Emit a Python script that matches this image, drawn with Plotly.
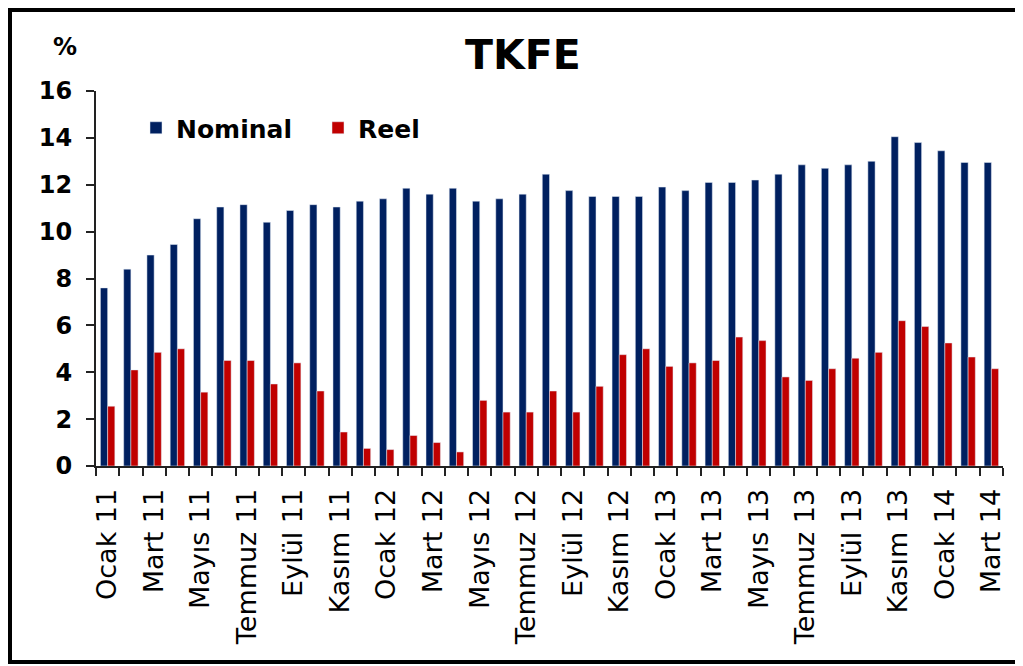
import plotly.graph_objects as go

categories = [
    "Ocak 11", "Şubat 11", "Mart 11", "Nisan 11", "Mayıs 11", "Haziran 11",
    "Temmuz 11", "Ağustos 11", "Eylül 11", "Ekim 11", "Kasım 11", "Aralık 11",
    "Ocak 12", "Şubat 12", "Mart 12", "Nisan 12", "Mayıs 12", "Haziran 12",
    "Temmuz 12", "Ağustos 12", "Eylül 12", "Ekim 12", "Kasım 12", "Aralık 12",
    "Ocak 13", "Şubat 13", "Mart 13", "Nisan 13", "Mayıs 13", "Haziran 13",
    "Temmuz 13", "Ağustos 13", "Eylül 13", "Ekim 13", "Kasım 13", "Aralık 13",
    "Ocak 14", "Şubat 14", "Mart 14",
]

nominal = [
    7.6, 8.4, 9.0, 9.45, 10.55, 11.05, 11.15, 10.4, 10.9, 11.15, 11.05, 11.3,
    11.4, 11.85, 11.6, 11.85, 11.3, 11.4, 11.6, 12.45, 11.75, 11.5, 11.5, 11.5,
    11.9, 11.75, 12.1, 12.1, 12.2, 12.45, 12.85, 12.7, 12.85, 13.0,
    14.05, 13.8, 13.45, 12.95, 12.95,
]

reel = [
    2.55, 4.1, 4.85, 5.0, 3.15, 4.5, 4.5, 3.5, 4.4, 3.2, 1.45, 0.75,
    0.7, 1.3, 1.0, 0.6, 2.8, 2.3, 2.3, 3.2, 2.3, 3.4, 4.75, 5.0,
    4.25, 4.4, 4.5, 5.5, 5.35, 3.8, 3.65, 4.15, 4.6, 4.85,
    6.2, 5.95, 5.25, 4.65, 4.15,
]

labeled_months = ["Ocak", "Mart", "Mayıs", "Temmuz", "Eylül", "Kasım"]
tick_text = [c if c.split()[0] in labeled_months else "" for c in categories]

y_ticks = [0, 2, 4, 6, 8, 10, 12, 14, 16]

NAVY = "#002060"
RED = "#C00000"
FONT = "DejaVu Sans"

fig = go.Figure()
fig.add_trace(go.Bar(name="Nominal", x=categories, y=nominal, marker_color=NAVY))
fig.add_trace(go.Bar(name="Reel", x=categories, y=reel, marker_color=RED))

# the page body has an 8px margin, so the figure is laid out 8px up/left
OFF = 8
W, H = 1023 - OFF, 666 - OFF
L, T = 96 - OFF, 91 - OFF
R = W - (1003 - OFF)
B = H - (466 - OFF)
pw, ph = W - L - R, H - T - B


def px(p):
    return (p - OFF - L) / pw


def py(p):
    return (H - B - (p - OFF)) / ph


fig.update_layout(
    width=W, height=H,
    margin=dict(l=L, r=R, t=T, b=B, pad=0),
    paper_bgcolor="white", plot_bgcolor="white",
    barmode="group", bargap=0.38, bargroupgap=0.0,
    font=dict(family=FONT, color="black"),
    showlegend=True,
    legend=dict(
        orientation="h", x=px(136), y=py(128), xanchor="left", yanchor="middle",
        font=dict(family=FONT, size=25, color="black", weight="bold"),
        bgcolor="rgba(0,0,0,0)", itemwidth=30, entrywidth=137, entrywidthmode="pixels",
        tracegroupgap=0,
    ),
    xaxis=dict(
        type="category",
        tickmode="array", tickvals=categories, ticktext=tick_text,
        tickson="boundaries", ticks="outside", ticklen=8, tickwidth=2, tickcolor="#222",
        tickangle=-90, tickfont=dict(family=FONT, size=27, color="black"),
        ticklabelstandoff=10,
        showline=True, linecolor="#222", linewidth=2, showgrid=False,
        range=[-0.5, len(categories) - 0.5],
    ),
    yaxis=dict(
        range=[0, 16], tickmode="array", tickvals=y_ticks,
        ticks="outside", ticklen=8, tickwidth=2, tickcolor="#222",
        tickfont=dict(family=FONT, size=24, color="black", weight="bold"),
        ticklabelstandoff=9,
        showline=True, linecolor="#222", linewidth=2, showgrid=False, zeroline=False,
    ),
    annotations=[
        dict(text="TKFE", x=px(523), y=py(55), xref="paper", yref="paper",
             showarrow=False, xanchor="center", yanchor="middle",
             font=dict(family=FONT, size=41, color="black", weight="bold")),
        dict(text="%", x=px(65), y=py(47), xref="paper", yref="paper",
             showarrow=False, xanchor="center", yanchor="middle",
             font=dict(family=FONT, size=24, color="black", weight="bold")),
    ],
    shapes=[
        dict(type="rect", xref="paper", yref="paper",
             x0=px(10), x1=px(1019), y0=py(662), y1=py(10),
             line=dict(color="black", width=4), fillcolor="rgba(0,0,0,0)"),
    ],
)

fig.write_html("out.html")
